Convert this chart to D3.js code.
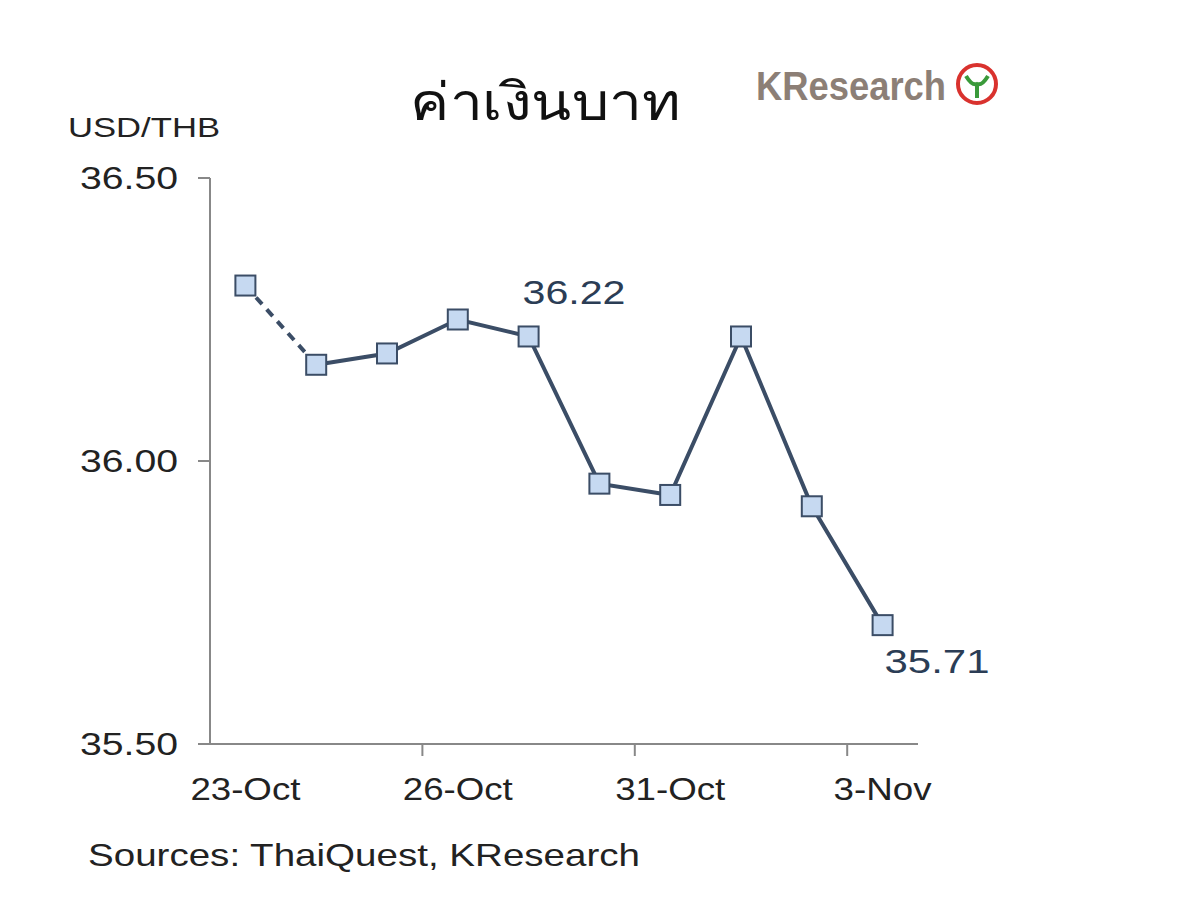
<!DOCTYPE html>
<html><head><meta charset="utf-8">
<script src="https://cdn.jsdelivr.net/npm/d3@7"></script>
<style>body{margin:0;background:#fff}</style>
</head><body>
<svg id="chart" width="1200" height="906"></svg>
<script>
var dates = ["23-Oct","24-Oct","25-Oct","26-Oct","27-Oct","30-Oct","31-Oct","1-Nov","2-Nov","3-Nov"],
    rates = [36.31, 36.17, 36.19, 36.25, 36.22, 35.96, 35.94, 36.22, 35.92, 35.71],
    yTicks = [35.5, 36.0, 36.5],
    shownDates = ["23-Oct","26-Oct","31-Oct","3-Nov"];

var svg = d3.select("#chart"),
    font = "Liberation Sans, Arial, sans-serif";

var x = d3.scaleBand().domain(dates).range([210, 918]),
    y = d3.scaleLinear().domain([35.5, 36.5]).range([744, 178]);

// stretched text like the original picture
function txt(xx, yy, s, size, len, anchor, fill) {
    return svg.append("text").attr("x", xx).attr("y", yy).attr("text-anchor", anchor || "start")
        .attr("font-family", font).attr("font-size", size).attr("fill", fill || "#222")
        .attr("textLength", len).attr("lengthAdjust", "spacingAndGlyphs").text(s);
}

// title and logo
svg.append("text").attr("x", 545).attr("y", 120).attr("text-anchor", "middle")
    .attr("font-family", "Noto Sans, sans-serif").attr("font-size", 52).attr("fill", "#111")
    .attr("textLength", 270).attr("lengthAdjust", "spacingAndGlyphs")
    .text("ค่าเงินบาท");
svg.append("text").attr("x", 756).attr("y", 100)
    .attr("font-family", font).attr("font-size", 40).attr("font-weight", "bold")
    .attr("fill", "#8c7f76").attr("textLength", 190).attr("lengthAdjust", "spacingAndGlyphs")
    .text("KResearch");
svg.append("circle").attr("cx", 977).attr("cy", 84).attr("r", 19)
    .attr("fill", "#fff").attr("stroke", "#d9322e").attr("stroke-width", 4);
svg.append("path").attr("d", "M977,98 L977,84 M966,76 Q972,86 977,84 Q982,86 988,76")
    .attr("fill", "none").attr("stroke", "#3a9a3a").attr("stroke-width", 4);

txt(68, 137, "USD/THB", 28, 152);

// y axis
svg.append("line").attr("x1", 210).attr("x2", 210).attr("y1", 178).attr("y2", 744)
    .attr("stroke", "#888").attr("stroke-width", 2);
yTicks.forEach(function(t) {
    svg.append("line").attr("x1", 198).attr("x2", 210).attr("y1", y(t)).attr("y2", y(t))
        .attr("stroke", "#888").attr("stroke-width", 2);
    txt(178, y(t) + 11, t.toFixed(2), 31, 98, "end");
});

// x axis
svg.append("line").attr("x1", 210).attr("x2", 918).attr("y1", 744).attr("y2", 744)
    .attr("stroke", "#888").attr("stroke-width", 2);
[3, 6, 9].forEach(function(i) {
    var xx = x(dates[i]);
    svg.append("line").attr("x1", xx).attr("x2", xx).attr("y1", 744).attr("y2", 756)
        .attr("stroke", "#888").attr("stroke-width", 2);
});
shownDates.forEach(function(d) {
    txt(x(d) + x.bandwidth() / 2, 800, d, 31, d.length == 6 ? 110 : 98, "middle");
});

var cx = function(d, i) { return x(dates[i]) + x.bandwidth() / 2; };
var pts = rates.map(function(d, i) { return [cx(d, i), y(d)]; });
svg.append("path").attr("d", d3.line()(pts.slice(0, 2)))
    .attr("fill", "none").attr("stroke", "#3b4d66").attr("stroke-width", 4)
    .attr("stroke-dasharray", "9,7");
svg.append("path").attr("d", d3.line()(pts.slice(1)))
    .attr("fill", "none").attr("stroke", "#3b4d66").attr("stroke-width", 4);

svg.selectAll("rect.pt").data(rates).enter().append("rect").attr("class", "pt")
    .attr("x", function(d, i) { return cx(d, i) - 10; })
    .attr("y", function(d) { return y(d) - 10; })
    .attr("width", 20).attr("height", 20)
    .attr("fill", "#c6d9f1").attr("stroke", "#3b4d66").attr("stroke-width", 2);

txt(574, 304, "36.22", 33, 103, "middle", "#2b3d55");
txt(937, 673, "35.71", 33, 105, "middle", "#2b3d55");

txt(88, 866, "Sources: ThaiQuest, KResearch", 32, 552);
</script>
</body></html>
